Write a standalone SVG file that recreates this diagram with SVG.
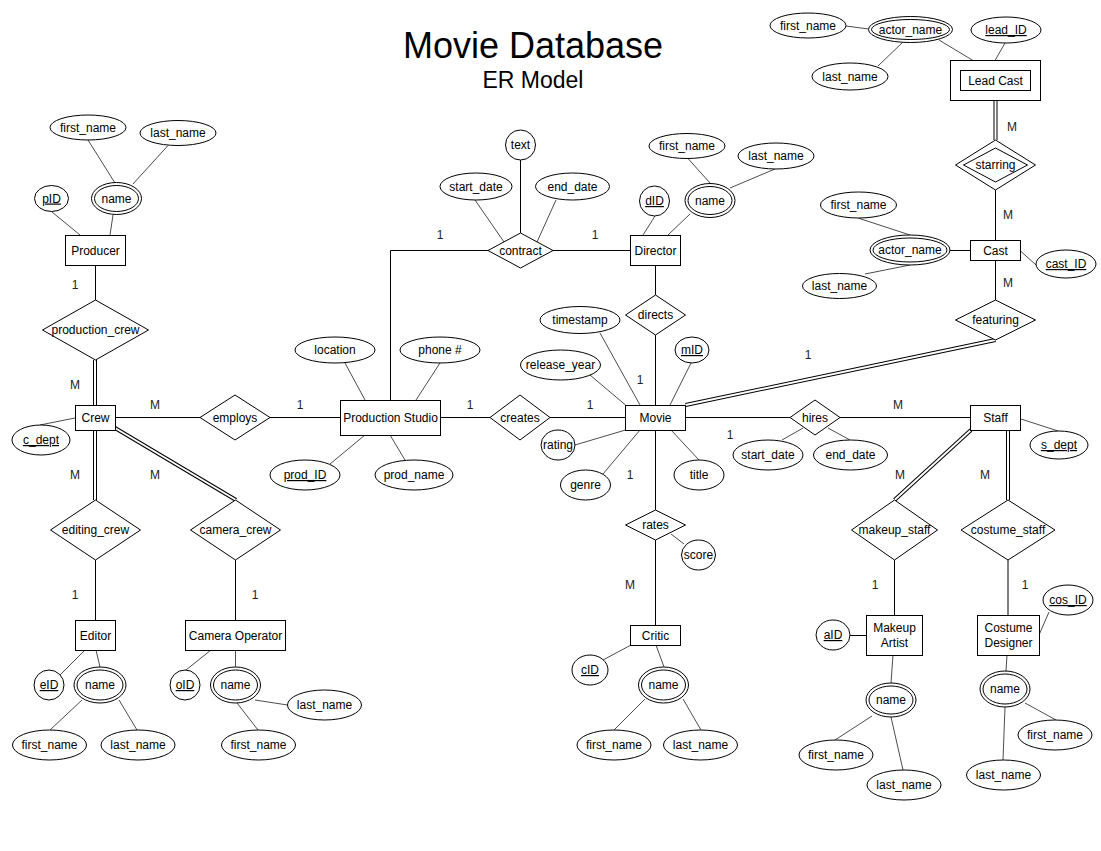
<svg xmlns="http://www.w3.org/2000/svg" width="1101" height="851" viewBox="0 0 1101 851">
<style>
.bg{fill:#fff}
.ent,.rel,.att{fill:#fff;stroke:#000;stroke-width:1}
.t{font-family:"Liberation Sans",Arial,sans-serif;font-size:12px;text-anchor:middle;fill:#000}
.u{text-decoration:underline}
.card{font-family:"Liberation Sans",Arial,sans-serif;font-size:12px;text-anchor:middle;fill:#222}
.r{stroke:#000;stroke-width:1;fill:none}
.a{stroke:#4d4d4d;stroke-width:1;fill:none}
.d1{stroke:#000;stroke-width:4;fill:none}
.d2{stroke:#fff;stroke-width:2;fill:none}
.title{font-family:"Liberation Sans",Arial,sans-serif;text-anchor:middle;fill:#000}
</style>
<rect class="bg" x="0" y="0" width="1101" height="851"/>
<g id="title">
<text class="title" x="533" y="58" font-size="36">Movie Database</text>
<text class="title" x="533" y="88" font-size="23">ER Model</text>
</g>
<g id="connectors">
<!-- relationship lines -->
<line class="r" x1="95.5" y1="265" x2="95.5" y2="300"/>
<line class="d1" x1="95" y1="360" x2="95" y2="405"/><line class="d2" x1="95" y1="360" x2="95" y2="405"/>
<line class="r" x1="115" y1="417.5" x2="200" y2="417.5"/>
<line class="r" x1="270" y1="417.5" x2="340" y2="417.5"/>
<line class="d1" x1="95" y1="430" x2="95" y2="500"/><line class="d2" x1="95" y1="430" x2="95" y2="500"/>
<line class="d1" x1="115" y1="428" x2="236" y2="500"/><line class="d2" x1="115" y1="428" x2="236" y2="500"/>
<line class="r" x1="95.5" y1="560" x2="95.5" y2="620"/>
<line class="r" x1="235.5" y1="560" x2="235.5" y2="620"/>
<polyline class="r" points="390.5,400 390.5,250.5 488,250.5"/>
<line class="r" x1="553" y1="250.5" x2="630.5" y2="250.5"/>
<line class="r" x1="440" y1="417.5" x2="490" y2="417.5"/>
<line class="r" x1="550" y1="417.5" x2="625.5" y2="417.5"/>
<line class="r" x1="655.5" y1="265" x2="655.5" y2="295"/>
<line class="r" x1="655.5" y1="335" x2="655.5" y2="405"/>
<line class="r" x1="655.5" y1="430" x2="655.5" y2="510"/>
<line class="r" x1="655.5" y1="540" x2="655.5" y2="625"/>
<line class="d1" x1="995.5" y1="100.5" x2="995.5" y2="140"/><line class="d2" x1="995.5" y1="100.5" x2="995.5" y2="140"/>
<line class="r" x1="995.5" y1="190" x2="995.5" y2="240.5"/>
<line class="r" x1="995.5" y1="260.5" x2="995.5" y2="300"/>
<line class="d1" x1="995.5" y1="340" x2="685.5" y2="405"/><line class="d2" x1="995.5" y1="340" x2="685.5" y2="405"/>
<line class="r" x1="685.5" y1="417.5" x2="790" y2="417.5"/>
<line class="r" x1="840" y1="417.5" x2="970.5" y2="417.5"/>
<line class="d1" x1="971" y1="430" x2="894.5" y2="500"/><line class="d2" x1="971" y1="430" x2="894.5" y2="500"/>
<line class="d1" x1="1008" y1="430" x2="1008" y2="500"/><line class="d2" x1="1008" y1="430" x2="1008" y2="500"/>
<line class="r" x1="894.5" y1="560" x2="894.5" y2="615"/>
<line class="r" x1="1008" y1="560" x2="1008" y2="615"/>
<!-- attribute lines -->
<line class="a" x1="52" y1="212" x2="80" y2="235"/>
<line class="a" x1="113" y1="215" x2="110" y2="235"/>
<line class="a" x1="88" y1="140" x2="115" y2="183"/>
<line class="a" x1="168" y1="145.5" x2="133" y2="184"/>
<line class="a" x1="40" y1="425" x2="75" y2="418"/>
<line class="a" x1="60" y1="675" x2="85" y2="650"/>
<line class="a" x1="96" y1="650" x2="100" y2="667"/>
<line class="a" x1="50" y1="730" x2="82" y2="700"/>
<line class="a" x1="137" y1="730" x2="119" y2="700"/>
<line class="a" x1="186" y1="670" x2="211" y2="650"/>
<line class="a" x1="235.5" y1="650" x2="235.5" y2="667"/>
<line class="a" x1="255" y1="700" x2="287.5" y2="705"/>
<line class="a" x1="237" y1="703" x2="258" y2="730"/>
<line class="a" x1="345" y1="363" x2="365" y2="400"/>
<line class="a" x1="440" y1="363" x2="416" y2="400"/>
<line class="a" x1="330" y1="464" x2="365" y2="435"/>
<line class="a" x1="405" y1="460" x2="390" y2="435"/>
<line class="r" x1="520.5" y1="160" x2="520.5" y2="233"/>
<line class="a" x1="475" y1="200" x2="504" y2="242"/>
<line class="a" x1="556" y1="200" x2="537" y2="242"/>
<line class="a" x1="655" y1="216" x2="643" y2="235"/>
<line class="a" x1="690" y1="214" x2="668" y2="235"/>
<line class="a" x1="688" y1="158.5" x2="710" y2="183"/>
<line class="a" x1="775" y1="169" x2="730" y2="188"/>
<line class="a" x1="600" y1="333" x2="640" y2="405"/>
<line class="a" x1="590" y1="375" x2="625.5" y2="405"/>
<line class="a" x1="691" y1="363" x2="670" y2="405"/>
<line class="a" x1="575" y1="445" x2="625.5" y2="430"/>
<line class="a" x1="603" y1="474" x2="640" y2="430"/>
<line class="a" x1="699" y1="460" x2="671" y2="430"/>
<line class="a" x1="671" y1="534" x2="684" y2="544"/>
<line class="a" x1="603" y1="660" x2="631" y2="645"/>
<line class="a" x1="656" y1="645" x2="664" y2="667"/>
<line class="a" x1="614" y1="730" x2="645" y2="699"/>
<line class="a" x1="701" y1="730" x2="683" y2="699"/>
<line class="a" x1="846" y1="26" x2="868.5" y2="29"/>
<line class="a" x1="878" y1="66" x2="903" y2="42"/>
<line class="a" x1="939" y1="40" x2="973" y2="60.5"/>
<line class="a" x1="1005" y1="43" x2="995" y2="60.5"/>
<line class="r" x1="950" y1="250.5" x2="970.5" y2="250.5"/>
<line class="a" x1="858" y1="218" x2="910" y2="235"/>
<line class="a" x1="865" y1="274" x2="910" y2="265"/>
<line class="a" x1="1020.5" y1="251" x2="1036" y2="265"/>
<line class="a" x1="782" y1="440" x2="803" y2="428"/>
<line class="a" x1="850" y1="440" x2="828" y2="428"/>
<line class="a" x1="1021" y1="419" x2="1058" y2="431"/>
<line class="r" x1="850" y1="635.5" x2="866" y2="635.5"/>
<line class="a" x1="893" y1="655" x2="891" y2="683"/>
<line class="a" x1="835" y1="740" x2="872" y2="716"/>
<line class="a" x1="903" y1="770" x2="891" y2="717"/>
<line class="a" x1="1049" y1="612" x2="1039" y2="635"/>
<line class="a" x1="1007" y1="655" x2="1006" y2="671"/>
<line class="a" x1="1056" y1="720" x2="1025" y2="703"/>
<line class="a" x1="1003" y1="760" x2="1005" y2="707"/>
</g>
<g id="cardinalities">
<text class="card" x="75" y="289">1</text>
<text class="card" x="75" y="389">M</text>
<text class="card" x="155" y="409">M</text>
<text class="card" x="300" y="409">1</text>
<text class="card" x="75" y="479">M</text>
<text class="card" x="75" y="599">1</text>
<text class="card" x="155" y="479">M</text>
<text class="card" x="255" y="599">1</text>
<text class="card" x="440" y="239">1</text>
<text class="card" x="595" y="239">1</text>
<text class="card" x="470" y="409">1</text>
<text class="card" x="590" y="409">1</text>
<text class="card" x="640" y="384">1</text>
<text class="card" x="630" y="479">1</text>
<text class="card" x="630" y="589">M</text>
<text class="card" x="1012" y="131">M</text>
<text class="card" x="1008" y="219">M</text>
<text class="card" x="1008" y="287">M</text>
<text class="card" x="808" y="359">1</text>
<text class="card" x="730" y="439">1</text>
<text class="card" x="898" y="409">M</text>
<text class="card" x="900" y="479">M</text>
<text class="card" x="875" y="589">1</text>
<text class="card" x="985" y="479">M</text>
<text class="card" x="1025" y="589">1</text>
</g>
<!-- entities -->
<g id="producer"><rect class="ent" x="65.5" y="235.5" width="60" height="30"/><text class="t" x="95.5" y="254.5">Producer</text></g>
<g id="crew"><rect class="ent" x="75.5" y="405.5" width="40" height="25"/><text class="t" x="95.5" y="422">Crew</text></g>
<g id="editor"><rect class="ent" x="75.5" y="620.5" width="40" height="30"/><text class="t" x="95.5" y="639.5">Editor</text></g>
<g id="camera_operator"><rect class="ent" x="185.5" y="620.5" width="100" height="30"/><text class="t" x="235.5" y="639.5">Camera Operator</text></g>
<g id="production_studio"><rect class="ent" x="340.5" y="400.5" width="100" height="35"/><text class="t" x="390.5" y="422">Production Studio</text></g>
<g id="director"><rect class="ent" x="630.5" y="235.5" width="50" height="30"/><text class="t" x="655.5" y="254.5">Director</text></g>
<g id="movie"><rect class="ent" x="625.5" y="405.5" width="60" height="25"/><text class="t" x="655.5" y="422">Movie</text></g>
<g id="critic"><rect class="ent" x="630.5" y="625.5" width="50" height="20"/><text class="t" x="655.5" y="639.5">Critic</text></g>
<g id="lead_cast"><rect class="ent" x="950.5" y="60.5" width="90" height="40"/><rect class="ent" x="960.5" y="70.5" width="70" height="20"/><text class="t" x="995.5" y="84.5">Lead Cast</text></g>
<g id="cast"><rect class="ent" x="970.5" y="240.5" width="50" height="20"/><text class="t" x="995.5" y="254.5">Cast</text></g>
<g id="staff"><rect class="ent" x="970.5" y="405.5" width="50" height="25"/><text class="t" x="995.5" y="422">Staff</text></g>
<g id="makeup_artist"><rect class="ent" x="866.5" y="615.5" width="56" height="40"/><text class="t" x="894.5" y="631.5">Makeup</text><text class="t" x="894.5" y="646.5">Artist</text></g>
<g id="costume_designer"><rect class="ent" x="977.5" y="615.5" width="62" height="40"/><text class="t" x="1008.5" y="631.5">Costume</text><text class="t" x="1008.5" y="646.5">Designer</text></g>
<!-- relationships -->
<g id="production_crew"><polygon class="rel" points="95.5,300 148.5,330 95.5,360 42.5,330"/><text class="t" x="95.5" y="334">production_crew</text></g>
<g id="employs"><polygon class="rel" points="235,395 270,417.5 235,440 200,417.5"/><text class="t" x="235" y="421.5">employs</text></g>
<g id="editing_crew"><polygon class="rel" points="95.5,500 140.5,530 95.5,560 50.5,530"/><text class="t" x="95.5" y="534">editing_crew</text></g>
<g id="camera_crew"><polygon class="rel" points="235.5,500 280.5,530 235.5,560 190.5,530"/><text class="t" x="235.5" y="534">camera_crew</text></g>
<g id="contract"><polygon class="rel" points="520.5,233 553,250.5 520.5,268 488,250.5"/><text class="t" x="520.5" y="254.5">contract</text></g>
<g id="creates"><polygon class="rel" points="520,395 550,417.5 520,440 490,417.5"/><text class="t" x="520" y="421.5">creates</text></g>
<g id="directs"><polygon class="rel" points="655.5,295 685.5,315 655.5,335 625.5,315"/><text class="t" x="655.5" y="319">directs</text></g>
<g id="rates"><polygon class="rel" points="655.5,510 685.5,525 655.5,540 625.5,525"/><text class="t" x="655.5" y="529">rates</text></g>
<g id="starring"><polygon class="rel" points="995.5,140 1035.5,165 995.5,190 955.5,165"/><polygon class="rel" points="995.5,148 1027.5,165 995.5,182 963.5,165"/><text class="t" x="995.5" y="169">starring</text></g>
<g id="featuring"><polygon class="rel" points="995.5,300 1035.5,320 995.5,340 955.5,320"/><text class="t" x="995.5" y="324">featuring</text></g>
<g id="hires"><polygon class="rel" points="815,400 840,417.5 815,435 790,417.5"/><text class="t" x="815" y="421.5">hires</text></g>
<g id="makeup_staff"><polygon class="rel" points="894.5,500 937.5,530 894.5,560 851.5,530"/><text class="t" x="894.5" y="534">makeup_staff</text></g>
<g id="costume_staff"><polygon class="rel" points="1008,500 1055,530 1008,560 961,530"/><text class="t" x="1008" y="534">costume_staff</text></g>
<!-- attributes -->
<g id="producer_pID"><ellipse class="att" cx="51.5" cy="198.5" rx="17" ry="13"/><text class="t u" x="51.5" y="202.5">pID</text></g>
<g id="producer_name"><ellipse class="att" cx="116.5" cy="198.5" rx="25" ry="16"/><ellipse class="att" cx="116.5" cy="198.5" rx="22" ry="13"/><text class="t" x="116.5" y="202.5">name</text></g>
<g id="producer_first_name"><ellipse class="att" cx="88" cy="127.5" rx="38" ry="12.5"/><text class="t" x="88" y="131.5">first_name</text></g>
<g id="producer_last_name"><ellipse class="att" cx="178" cy="133" rx="38" ry="12.5"/><text class="t" x="178" y="137">last_name</text></g>
<g id="crew_c_dept"><ellipse class="att" cx="41" cy="440" rx="29" ry="15"/><text class="t u" x="41" y="444">c_dept</text></g>
<g id="editor_eID"><ellipse class="att" cx="49" cy="685" rx="15" ry="15"/><text class="t u" x="49" y="689">eID</text></g>
<g id="editor_name"><ellipse class="att" cx="100" cy="685" rx="26" ry="18"/><ellipse class="att" cx="100" cy="685" rx="23" ry="15"/><text class="t" x="100" y="689">name</text></g>
<g id="editor_first_name"><ellipse class="att" cx="49.5" cy="745" rx="37" ry="15"/><text class="t" x="49.5" y="749">first_name</text></g>
<g id="editor_last_name"><ellipse class="att" cx="138" cy="745" rx="37" ry="15"/><text class="t" x="138" y="749">last_name</text></g>
<g id="camop_oID"><ellipse class="att" cx="185" cy="685" rx="15" ry="15"/><text class="t u" x="185" y="689">oID</text></g>
<g id="camop_name"><ellipse class="att" cx="235.5" cy="685" rx="25" ry="18"/><ellipse class="att" cx="235.5" cy="685" rx="22" ry="15"/><text class="t" x="235.5" y="689">name</text></g>
<g id="camop_last_name"><ellipse class="att" cx="324.5" cy="705" rx="37" ry="15"/><text class="t" x="324.5" y="709">last_name</text></g>
<g id="camop_first_name"><ellipse class="att" cx="258.5" cy="745" rx="37" ry="15"/><text class="t" x="258.5" y="749">first_name</text></g>
<g id="ps_location"><ellipse class="att" cx="335" cy="350" rx="40" ry="13"/><text class="t" x="335" y="354">location</text></g>
<g id="ps_phone"><ellipse class="att" cx="440" cy="350" rx="40" ry="13"/><text class="t" x="440" y="354">phone #</text></g>
<g id="ps_prod_ID"><ellipse class="att" cx="305" cy="475" rx="35" ry="15"/><text class="t u" x="305" y="479">prod_ID</text></g>
<g id="ps_prod_name"><ellipse class="att" cx="414" cy="475" rx="39" ry="15"/><text class="t" x="414" y="479">prod_name</text></g>
<g id="contract_text"><ellipse class="att" cx="520.5" cy="145" rx="15" ry="15"/><text class="t" x="520.5" y="149">text</text></g>
<g id="contract_start_date"><ellipse class="att" cx="476" cy="186.5" rx="36" ry="13.5"/><text class="t" x="476" y="190.5">start_date</text></g>
<g id="contract_end_date"><ellipse class="att" cx="572.5" cy="186.5" rx="37" ry="13.5"/><text class="t" x="572.5" y="190.5">end_date</text></g>
<g id="director_dID"><ellipse class="att" cx="654.5" cy="201" rx="15" ry="15"/><text class="t u" x="654.5" y="205">dID</text></g>
<g id="director_name"><ellipse class="att" cx="710" cy="200.5" rx="25" ry="17"/><ellipse class="att" cx="710" cy="200.5" rx="22" ry="14"/><text class="t" x="710" y="204.5">name</text></g>
<g id="director_first_name"><ellipse class="att" cx="687" cy="146" rx="38" ry="12.5"/><text class="t" x="687" y="150">first_name</text></g>
<g id="director_last_name"><ellipse class="att" cx="776" cy="156" rx="38" ry="13"/><text class="t" x="776" y="160">last_name</text></g>
<g id="movie_timestamp"><ellipse class="att" cx="580" cy="320" rx="40" ry="13.5"/><text class="t" x="580" y="324">timestamp</text></g>
<g id="movie_release_year"><ellipse class="att" cx="560.5" cy="365" rx="40" ry="15"/><text class="t" x="560.5" y="369">release_year</text></g>
<g id="movie_mID"><ellipse class="att" cx="692" cy="350" rx="17" ry="13"/><text class="t u" x="692" y="354">mID</text></g>
<g id="movie_rating"><ellipse class="att" cx="558" cy="445" rx="17" ry="15"/><text class="t" x="558" y="449">rating</text></g>
<g id="movie_genre"><ellipse class="att" cx="585.5" cy="485" rx="25" ry="15"/><text class="t" x="585.5" y="489">genre</text></g>
<g id="movie_title"><ellipse class="att" cx="699" cy="475" rx="25" ry="15"/><text class="t" x="699" y="479">title</text></g>
<g id="rates_score"><ellipse class="att" cx="698.5" cy="555" rx="17" ry="15"/><text class="t" x="698.5" y="559">score</text></g>
<g id="critic_cID"><ellipse class="att" cx="590" cy="670" rx="18" ry="15"/><text class="t u" x="590" y="674">cID</text></g>
<g id="critic_name"><ellipse class="att" cx="663.5" cy="685" rx="25" ry="18"/><ellipse class="att" cx="663.5" cy="685" rx="22" ry="15"/><text class="t" x="663.5" y="689">name</text></g>
<g id="critic_first_name"><ellipse class="att" cx="614" cy="745" rx="37" ry="15"/><text class="t" x="614" y="749">first_name</text></g>
<g id="critic_last_name"><ellipse class="att" cx="700.5" cy="745" rx="37" ry="15"/><text class="t" x="700.5" y="749">last_name</text></g>
<g id="lead_actor_name"><ellipse class="att" cx="910.5" cy="29.5" rx="42" ry="13"/><ellipse class="att" cx="910.5" cy="29.5" rx="39" ry="10"/><text class="t" x="910.5" y="33.5">actor_name</text></g>
<g id="lead_first_name"><ellipse class="att" cx="808" cy="25.5" rx="38" ry="12.5"/><text class="t" x="808" y="29.5">first_name</text></g>
<g id="lead_last_name"><ellipse class="att" cx="850" cy="76.5" rx="38" ry="13.5"/><text class="t" x="850" y="80.5">last_name</text></g>
<g id="lead_ID"><ellipse class="att" cx="1006" cy="30" rx="35" ry="13"/><text class="t u" x="1006" y="34">lead_ID</text></g>
<g id="cast_actor_name"><ellipse class="att" cx="910" cy="250" rx="40" ry="15"/><ellipse class="att" cx="910" cy="250" rx="37" ry="12"/><text class="t" x="910" y="254">actor_name</text></g>
<g id="cast_first_name"><ellipse class="att" cx="858.5" cy="205" rx="38" ry="13"/><text class="t" x="858.5" y="209">first_name</text></g>
<g id="cast_last_name"><ellipse class="att" cx="839.5" cy="286" rx="37" ry="12.5"/><text class="t" x="839.5" y="290">last_name</text></g>
<g id="cast_ID"><ellipse class="att" cx="1066" cy="264" rx="30" ry="14"/><text class="t u" x="1066" y="268">cast_ID</text></g>
<g id="hires_start_date"><ellipse class="att" cx="768" cy="455" rx="35" ry="15"/><text class="t" x="768" y="459">start_date</text></g>
<g id="hires_end_date"><ellipse class="att" cx="850.5" cy="455" rx="37" ry="15"/><text class="t" x="850.5" y="459">end_date</text></g>
<g id="staff_s_dept"><ellipse class="att" cx="1059" cy="445" rx="29" ry="14"/><text class="t u" x="1059" y="449">s_dept</text></g>
<g id="makeup_aID"><ellipse class="att" cx="833" cy="635" rx="17" ry="15"/><text class="t u" x="833" y="639">aID</text></g>
<g id="makeup_name"><ellipse class="att" cx="891" cy="700" rx="25" ry="17"/><ellipse class="att" cx="891" cy="700" rx="22" ry="14"/><text class="t" x="891" y="704">name</text></g>
<g id="makeup_first_name"><ellipse class="att" cx="836" cy="755" rx="37" ry="15"/><text class="t" x="836" y="759">first_name</text></g>
<g id="makeup_last_name"><ellipse class="att" cx="904" cy="785" rx="37" ry="15"/><text class="t" x="904" y="789">last_name</text></g>
<g id="costume_cos_ID"><ellipse class="att" cx="1068" cy="600" rx="25" ry="15"/><text class="t u" x="1068" y="604">cos_ID</text></g>
<g id="costume_name"><ellipse class="att" cx="1005" cy="689" rx="25" ry="18"/><ellipse class="att" cx="1005" cy="689" rx="22" ry="15"/><text class="t" x="1005" y="693">name</text></g>
<g id="costume_first_name"><ellipse class="att" cx="1055" cy="735" rx="37" ry="15"/><text class="t" x="1055" y="739">first_name</text></g>
<g id="costume_last_name"><ellipse class="att" cx="1003.5" cy="775" rx="37" ry="15"/><text class="t" x="1003.5" y="779">last_name</text></g>
</svg>
